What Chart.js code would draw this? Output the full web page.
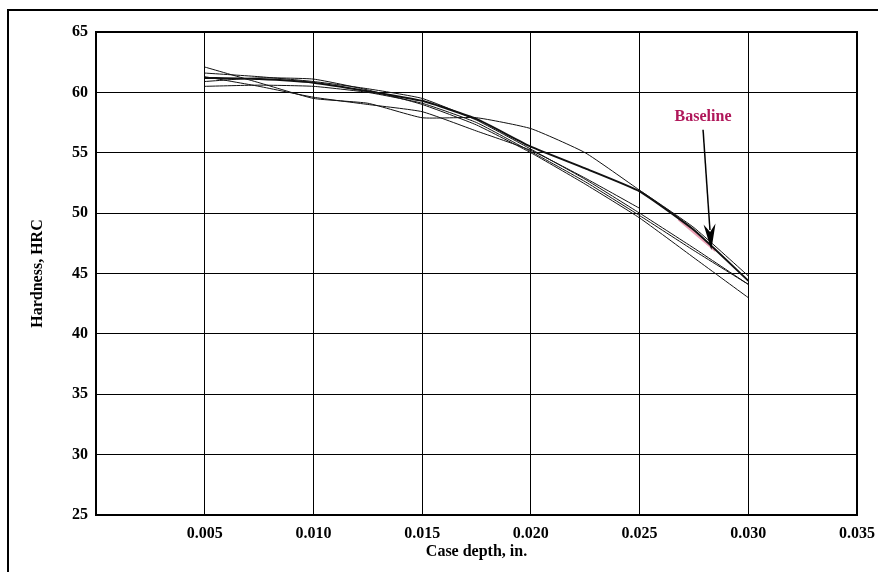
<!DOCTYPE html>
<html lang="en">
<head>
    <meta charset="UTF-8">
    <title>Hardness vs case depth</title>
    <script src="https://cdn.jsdelivr.net/npm/chart.js"></script>
    <style>
        body { margin: 0; background: #fff; }
        #wrap { width: 878px; height: 572px; }
    </style>
</head>
<body>
    <div id="wrap"><canvas id="hardnessChart"></canvas></div>

    <script>
// case depth (in.) sample points, shared by the curves
const depth = [0.005, 0.0075, 0.010, 0.0125, 0.015, 0.0175, 0.020, 0.0225, 0.025, 0.0275, 0.030];

// hardness (HRC) for each curve
const curveA   = [62.1, 60.8, 59.5, 59.1, 57.9, 57.9, 57.0, 55.0, 51.9, 48.8, 44.8];
const baseline = [61.2, 61.1, 60.8, 60.1, 59.3, 57.8, 55.5, 53.7, 51.8, 48.6, 44.4];
const curveC   = [61.6, 61.3, 60.9, 60.3, 59.5, 57.7, 55.3, 52.8, 50.0, 47.1, 44.1];
const curveD   = [60.9, 61.2, 61.1, 60.2, 59.0, 57.3, 55.0, 52.4, 49.6, 46.3, 43.0];
const curveE   = [60.5, 60.6, 60.5, 60.0, 59.1, 57.5, 55.1, 52.6, 49.8, 46.9, 44.1];
const curveF   = [61.3, 60.5, 59.6, 59.0, 58.4, 56.8, 55.2, 52.9, 50.4, null, null];

// pink marker on the baseline near the arrow
const highlightDepth = [0.0268, 0.0285];
const highlightHardness = [49.5, 46.9];

// axis ticks
const xTicks = [0.005, 0.010, 0.015, 0.020, 0.025, 0.030, 0.035];
const yTicks = [25, 30, 35, 40, 45, 50, 55, 60, 65];

const serif = "'Liberation Serif', 'DejaVu Serif', serif";

function toPoints(xs, ys) {
    return xs.map((x, i) => ({ x: x, y: ys[i] }));
}

function line(data, width) {
    return {
        data: toPoints(depth, data),
        borderColor: '#111',
        borderWidth: width,
        pointRadius: 0,
        tension: 0.15,
        fill: false,
        spanGaps: false
    };
}

// frame, plot border and the "Baseline" arrow
const extras = {
    id: 'extras',
    afterDraw(chart) {
        const ctx = chart.ctx;
        const a = chart.chartArea;
        const xs = chart.scales.x, ys = chart.scales.y;
        ctx.save();
        ctx.strokeStyle = '#000';
        ctx.lineWidth = 2;
        ctx.strokeRect(a.left, a.top, a.right - a.left, a.bottom - a.top);
        ctx.strokeRect(8, 10, 880, 580);

        // label
        ctx.fillStyle = '#b0175a';
        ctx.font = 'bold 16px ' + serif;
        ctx.textAlign = 'center';
        ctx.textBaseline = 'middle';
        ctx.fillText('Baseline', xs.getPixelForValue(0.02792), ys.getPixelForValue(57.96));

        // arrow
        const x1 = xs.getPixelForValue(0.02792), y1 = ys.getPixelForValue(56.9);
        const x2 = xs.getPixelForValue(0.0283), y2 = ys.getPixelForValue(46.95);
        const ang = Math.atan2(y2 - y1, x2 - x1);
        ctx.strokeStyle = '#000';
        ctx.lineWidth = 1.5;
        ctx.beginPath();
        ctx.moveTo(x1, y1);
        ctx.lineTo(x2 - 20 * Math.cos(ang), y2 - 20 * Math.sin(ang));
        ctx.stroke();
        ctx.fillStyle = '#000';
        ctx.beginPath();
        ctx.moveTo(x2, y2);
        ctx.lineTo(x2 - 26 * Math.cos(ang) + 6 * Math.sin(ang), y2 - 26 * Math.sin(ang) - 6 * Math.cos(ang));
        ctx.lineTo(x2 - 18 * Math.cos(ang), y2 - 18 * Math.sin(ang));
        ctx.lineTo(x2 - 26 * Math.cos(ang) - 6 * Math.sin(ang), y2 - 26 * Math.sin(ang) + 6 * Math.cos(ang));
        ctx.closePath();
        ctx.fill();
        ctx.restore();
    }
};

new Chart(document.getElementById('hardnessChart'), {
    type: 'line',
    data: {
        datasets: [
            {
                data: toPoints(highlightDepth, highlightHardness),
                borderColor: 'rgba(225, 120, 150, 0.7)',
                borderWidth: 3,
                pointRadius: 0,
                order: 10
            },
            line(curveA, 1),
            line(baseline, 2),
            line(curveC, 1),
            line(curveD, 1),
            line(curveE, 1),
            line(curveF, 1)
        ]
    },
    options: {
        responsive: true,
        maintainAspectRatio: false,
        animation: false,
        layout: { padding: { left: 0, top: 32, right: 21, bottom: 0 } },
        plugins: { legend: { display: false }, tooltip: { enabled: false } },
        scales: {
            x: {
                type: 'linear',
                min: 0,
                max: 0.035,
                afterFit(scale) {
                    scale.height = 57;
                    scale.paddingLeft = 0;
                    scale.paddingRight = 0;
                },
                afterBuildTicks(scale) { scale.ticks = [0].concat(xTicks).map(v => ({ value: v })); },
                grid: { color: '#000', lineWidth: 1, drawTicks: false },
                border: { display: true, color: '#000', width: 2 },
                ticks: {
                    padding: 9,
                    color: '#000',
                    font: { family: serif, size: 16, weight: 'bold' },
                    maxRotation: 0,
                    callback: v => (v === 0 ? '' : v.toFixed(3))
                },
                title: {
                    display: true,
                    text: 'Case depth, in.',
                    color: '#000',
                    font: { family: serif, size: 16, weight: 'bold' },
                    padding: { top: 0, bottom: 11 }
                }
            },
            y: {
                min: 25,
                max: 65,
                afterFit(scale) {
                    scale.width = 96;
                    scale.paddingTop = 0;
                    scale.paddingBottom = 0;
                },
                afterBuildTicks(scale) { scale.ticks = yTicks.map(v => ({ value: v })); },
                grid: { color: '#000', lineWidth: 1, drawTicks: false },
                border: { display: true, color: '#000', width: 2 },
                ticks: {
                    padding: 8,
                    color: '#000',
                    font: { family: serif, size: 16, weight: 'bold' }
                },
                title: {
                    display: true,
                    text: 'Hardness, HRC',
                    color: '#000',
                    font: { family: serif, size: 16, weight: 'bold' },
                    padding: { top: 28, bottom: 0 }
                }
            }
        }
    },
    plugins: [extras]
});
    </script>
</body>
</html>
